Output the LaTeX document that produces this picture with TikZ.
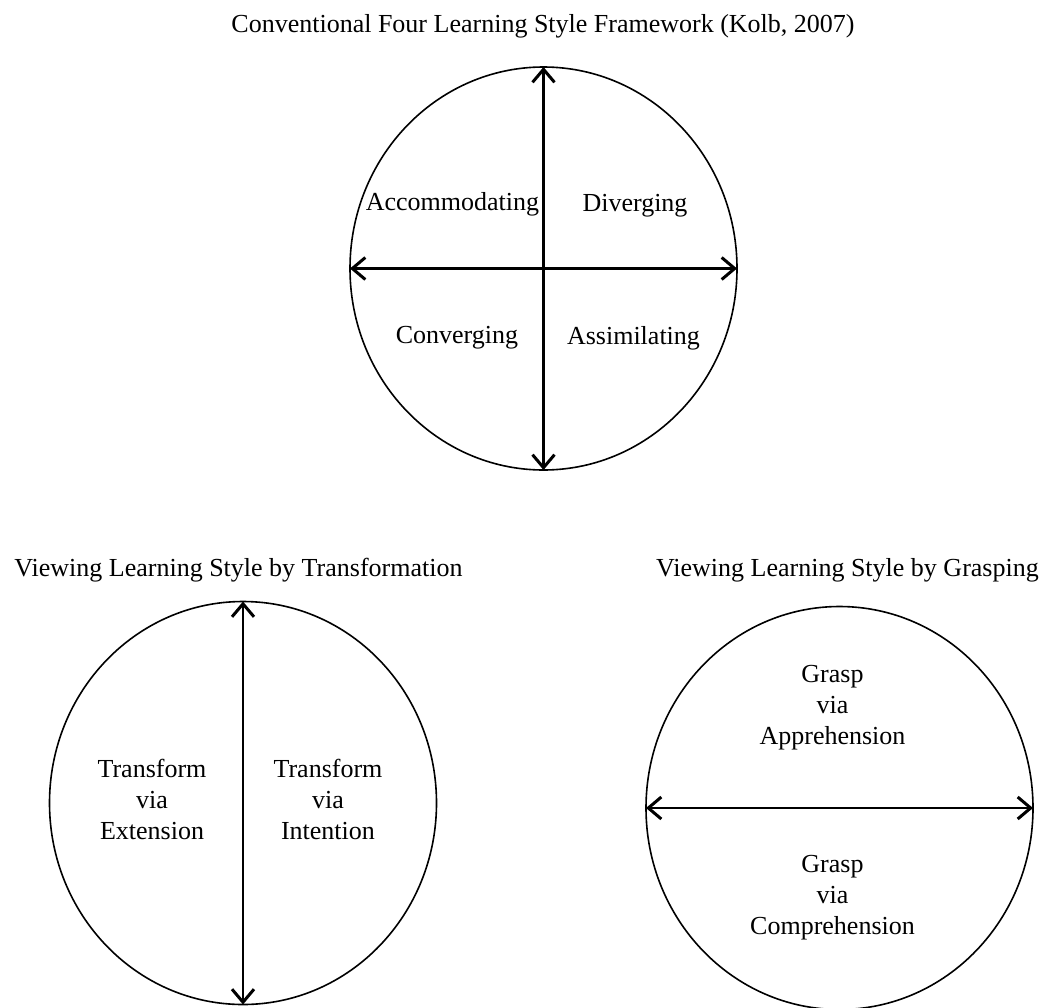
\documentclass[tikz,border=0pt]{standalone}
\usepackage{fontspec}
\setmainfont{Liberation Serif}
\usetikzlibrary{shapes.geometric,arrows.meta}
\begin{document}
\begin{tikzpicture}[x=1pt,y=-1pt,
  lbl/.style={font=\fontsize{26}{31}\selectfont, inner sep=0pt, anchor=base, align=center},
  ring/.style={draw, ellipse, line width=1.6pt, inner sep=0pt, outer sep=0pt,
    minimum width=387pt, minimum height=403pt},
  barb/.tip={Straight Barb[length=13pt,width=22pt,line width=3pt]},
  axis/.style={line width=2.2pt, barb-barb}]
  \useasboundingbox (0,0) rectangle (1047,1007);

  % Kolb's four learning styles
  \node[lbl] (t1) at (543,32) {Conventional Four Learning Style Framework (Kolb, 2007)};
  \node[ring] (k) at (543.5,268.5) {};
  \draw[axis] (k.north) -- (k.south);
  \draw[axis] (k.west) -- (k.east);
  \node[lbl] (acc) at (452.5,210) {Accommodating};
  \node[lbl] (div) at (635,211) {Diverging};
  \node[lbl] (con) at (457,343) {Converging};
  \node[lbl] (ass) at (633.5,344) {Assimilating};

  % Transformation axis (base anchor sits on the last line)
  \node[lbl] (t2) at (238.5,576) {Viewing Learning Style by Transformation};
  \node[ring] (tr) at (243,803) {};
  \draw[axis] (tr.north) -- (tr.south);
  \node[lbl] (ext) at (152,839) {Transform\\via\\Extension};
  \node[lbl] (int) at (328,839) {Transform\\via\\Intention};

  % Grasping axis
  \node[lbl] (t3) at (847.5,576) {Viewing Learning Style by Grasping};
  \node[ring] (gr) at (839.5,808) {};
  \draw[axis] (gr.west) -- (gr.east);
  \node[lbl] (app) at (832.5,744) {Grasp\\via\\Apprehension};
  \node[lbl] (com) at (832.5,934) {Grasp\\via\\Comprehension};
\end{tikzpicture}
\end{document}
